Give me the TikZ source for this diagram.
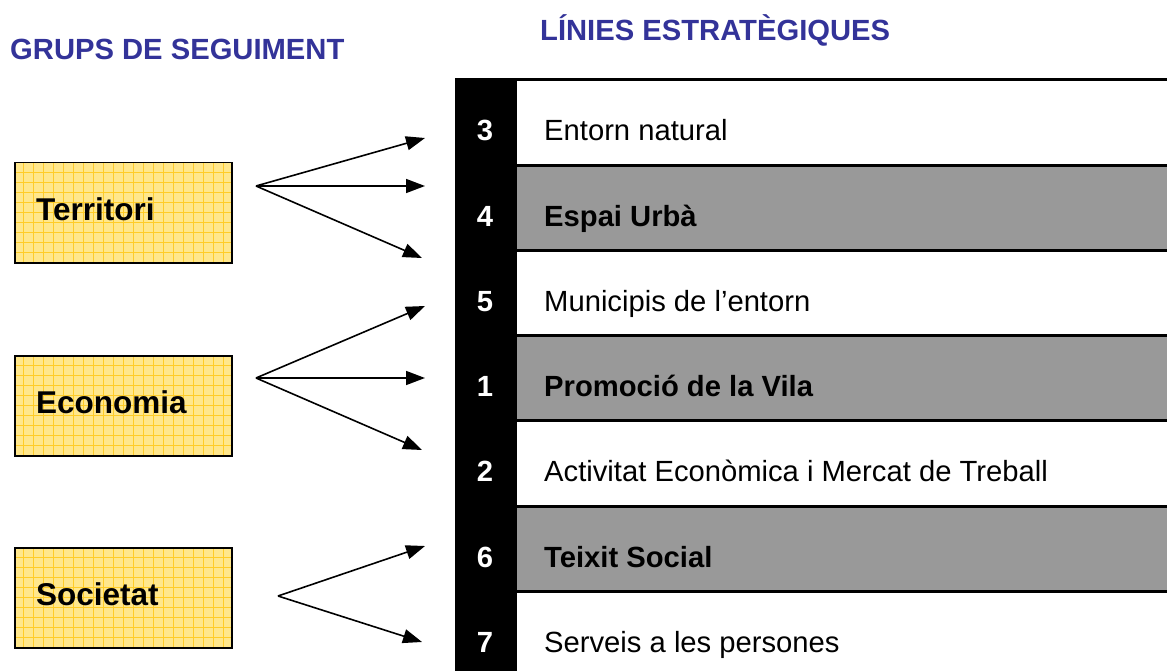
\documentclass[tikz,border=0pt]{standalone}
\usepackage{fontspec}
\setmainfont{Liberation Sans}
\usetikzlibrary{arrows.meta}
\definecolor{titleblue}{RGB}{51,51,153}
\definecolor{boxyellow}{RGB}{255,231,140}
\definecolor{gridyellow}{RGB}{255,204,40}
\definecolor{bandgray}{RGB}{153,153,153}
\tikzset{
    groupbox/.style = {
        draw, line width=1.5pt, fill=boxyellow, anchor=north west, inner sep=0,
        minimum width=217pt, minimum height=100pt,
        path picture={\draw[gridyellow, line width=0.9pt]
            (path picture bounding box.south west) grid[step=10pt]
            (path picture bounding box.north east);}
    },
    grouplabel/.style = {anchor=base west, inner sep=0, font=\fontsize{31.5}{36}\selectfont\bfseries},
    heading/.style = {anchor=base west, inner sep=0, text=titleblue, font=\fontsize{29.2}{34}\selectfont\bfseries},
    band/.style = {anchor=north west, inner sep=0, minimum width=650pt, minimum height=85.2pt},
    band plain/.style = {fill=white},
    band bold/.style = {fill=bandgray},
    rownum/.style = {anchor=base, inner sep=0, text=white, font=\fontsize{29.2}{34}\selectfont\bfseries},
    rowtext plain/.style = {anchor=base west, inner sep=0, font=\fontsize{29.2}{34}\selectfont},
    rowtext bold/.style = {anchor=base west, inner sep=0, font=\fontsize{29.2}{34}\selectfont\bfseries},
    column/.style = {anchor=north west, inner sep=0, fill=black, minimum width=62pt, minimum height=593pt},
    link/.style = {line width=1.6pt, -{Triangle[length=19pt,width=14pt]}}
}
\begin{document}
\begin{tikzpicture}[x=1pt, y=-1pt]
    \useasboundingbox (0,0) rectangle (1167,671);

    % titles
    \node[heading] (grups) at (10,60) {GRUPS DE SEGUIMENT};
    \node[heading] (linies) at (540,41) {LÍNIES ESTRATÈGIQUES};

    % strategic lines
    \node[column] (col) at (455,78) {};
    \foreach \num/\txt/\kind [count=\i from 0] in {
        3/Entorn natural/plain,
        4/Espai Urbà/bold,
        5/Municipis de l’entorn/plain,
        1/Promoció de la Vila/bold,
        2/Activitat Econòmica i Mercat de Treball/plain,
        6/Teixit Social/bold,
        7/Serveis a les persones/plain}{
        \pgfmathsetmacro{\rowy}{80+85.2*\i}
        \node[band, band \kind] (row\num) at (517,\rowy) {};
        \draw[line width=3pt] (row\num.north west) -- (row\num.north east);
        \node[rownum] (num\num) at (485,\rowy+61) {\num};
        \node[rowtext \kind] (txt\num) at (544,\rowy+61) {\txt};
    }

    % groups
    \node[groupbox] (territori) at (14,162) {};
    \node[grouplabel] (territoriTxt) at (36,221) {Territori};
    \node[groupbox] (economia) at (14,355) {};
    \node[grouplabel] (economiaTxt) at (36,413) {Economia};
    \node[groupbox] (societat) at (14,547) {};
    \node[grouplabel] (societatTxt) at (36,605) {Societat};

    % arrows
    \coordinate (terrFrom) at (256,186);
    \coordinate (terrA) at (425,138);
    \coordinate (terrB) at (425,186);
    \coordinate (terrC) at (422,258);
    \draw[link] (terrFrom) -- (terrA);
    \draw[link] (terrFrom) -- (terrB);
    \draw[link] (terrFrom) -- (terrC);

    \coordinate (econFrom) at (256,378);
    \coordinate (econA) at (425,306);
    \coordinate (econB) at (425,378);
    \coordinate (econC) at (422,450);
    \draw[link] (econFrom) -- (econA);
    \draw[link] (econFrom) -- (econB);
    \draw[link] (econFrom) -- (econC);

    \coordinate (socFrom) at (278,596);
    \coordinate (socA) at (425,546);
    \coordinate (socB) at (422,642);
    \draw[link] (socFrom) -- (socA);
    \draw[link] (socFrom) -- (socB);
\end{tikzpicture}
\end{document}
